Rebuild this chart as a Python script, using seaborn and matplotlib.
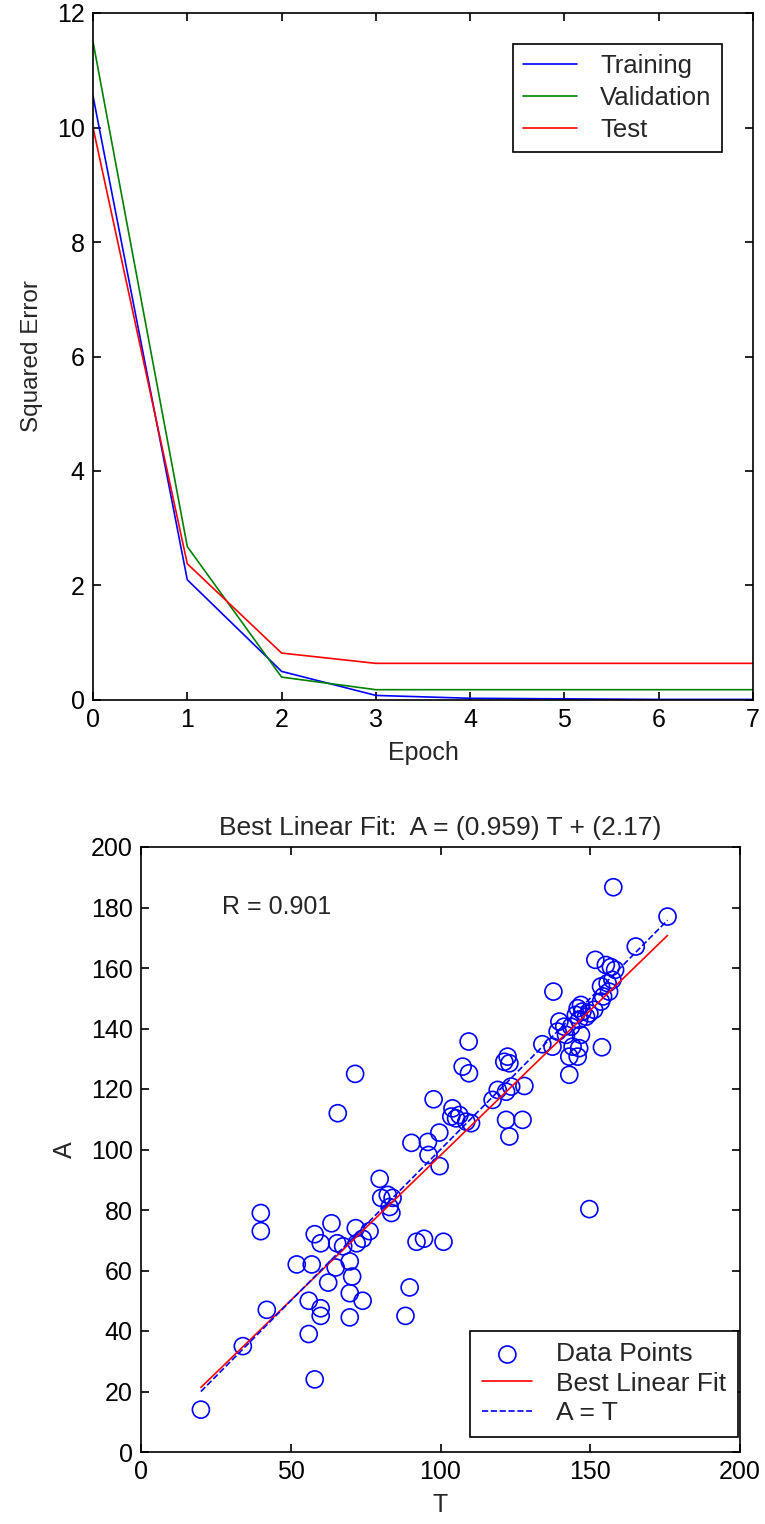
import numpy as np
import pandas as pd
import matplotlib
matplotlib.use("Agg")
import matplotlib.pyplot as plt
import seaborn as sns

# training curves
epochs = [0, 1, 2, 3, 4, 5, 6, 7]
train_err = [10.55, 2.10, 0.50, 0.08, 0.03, 0.02, 0.01, 0.01]
valid_err = [11.50, 2.68, 0.40, 0.18, 0.18, 0.18, 0.18, 0.18]
test_err = [10.00, 2.38, 0.82, 0.64, 0.64, 0.64, 0.64, 0.64]

# regression scatter: targets T vs outputs A
T = [20, 34, 40, 40, 42, 52, 56, 56, 57, 58, 58, 60, 60, 60, 62.5, 63.6,
     65, 65.5, 65.7, 67.5, 69.7, 69.7, 69.7, 70.5, 71.5, 71.7, 72, 74, 74,
     76.3, 79.7, 80.2, 82.4, 83, 84, 83.6, 88.3, 89.7, 90.3, 92, 94.5, 95.8,
     96, 97.7, 99.6, 99.7, 101, 104, 103.6, 105.2, 106.3, 107.4, 108.6,
     109.4, 109.5, 110.2, 117.4, 119.1, 121.9, 121.3, 122.4, 123, 123.6,
     121.9, 123, 127.4, 128, 134, 137.4, 137.7, 139.7, 139.1, 141.3, 141.9,
     143, 143, 143.6, 144.1, 145.8, 146.3, 146.9, 145.2, 146.3, 145.8, 146.9,
     147.4, 148.6, 149.7, 149.7, 151.3, 151.7, 153.6, 153.9, 154.3, 153.6,
     155.2, 155.8, 156.3, 156.9, 157.4, 158.3, 157.7, 165.2, 175.8]
A = [14, 35, 79, 73, 47, 62, 50, 39, 62, 72, 24, 69, 47.5, 45, 56, 75.6,
     61, 69, 112, 68, 63, 52.5, 44.5, 58, 125, 74, 69, 70.5, 50,
     73, 90.3, 84, 85, 81, 84, 79, 45, 54.4, 102.2, 69.5, 70.5, 102.5,
     98.2, 116.6, 105.6, 94.5, 69.5, 113.6, 110.9, 110.3, 111.4, 127.4, 109.2,
     135.7, 125.2, 108.7, 116.4, 119.7, 119.1, 129, 130.7, 128.5, 120.8,
     109.8, 104.3, 109.8, 121, 134.8, 134, 152.2, 142.3, 139, 140.6, 137.9,
     124.7, 130.7, 140.6, 134, 130.7, 133.5, 137.9, 144.5, 142.9, 146.7, 147.8,
     145.6, 143.9, 145, 80.3, 146.2, 162.7, 148.9, 133.8, 150.6, 153.9,
     161, 155, 152.2, 160.3, 156.1, 159.4, 186.7, 167.1, 177]

fit_slope = 0.959
fit_intercept = 2.17
r_value = 0.901

FS = 18

sns.set_theme(style="white")
plt.rcParams['font.family'] = ['Liberation Sans', 'DejaVu Sans']
plt.rcParams['font.size'] = FS
plt.rcParams['xtick.direction'] = 'in'
plt.rcParams['ytick.direction'] = 'in'

fig = plt.figure(figsize=(7.65, 15.24), dpi=100)
ax1 = fig.add_axes([93/765, 1 - 700/1524, 660/765, 687/1524])
ax2 = fig.add_axes([141/765, 1 - 1452/1524, 599/765, 605/1524])

# ---- top panel: error vs epoch ----
curves = pd.DataFrame({
    "Epoch": epochs * 3,
    "err": train_err + valid_err + test_err,
    "set": ["Training"] * 8 + ["Validation"] * 8 + ["Test"] * 8,
})
sns.lineplot(data=curves, x="Epoch", y="err", hue="set",
             palette={"Training": "#0000ff", "Validation": "#008000", "Test": "#ff0000"},
             linewidth=1.2, ax=ax1)
ax1.set_xlim(0, 7)
ax1.set_ylim(0, 12)
ax1.set_xticks(range(0, 8))
ax1.set_yticks(range(0, 13, 2))
ax1.set_xlabel("Epoch", fontsize=FS, labelpad=6)
ax1.set_ylabel("Squared Error", fontsize=17.5, labelpad=10)
leg1 = ax1.legend(loc="upper right", bbox_to_anchor=(0.953, 0.955), borderaxespad=0,
                  fontsize=18.5, fancybox=False, framealpha=1, edgecolor="black",
                  handlelength=2.1, handletextpad=0.9, labelspacing=0.3,
                  borderpad=0.4)
leg1.get_frame().set_linewidth(1.2)

# ---- bottom panel: regression ----
pts = pd.DataFrame({"T": T, "A": A})
sns.scatterplot(data=pts, x="T", y="A", marker="o", s=150, facecolor="none",
                edgecolor="#0000ff", linewidth=1.2, label="Data Points", ax=ax2)
t_line = [min(T), max(T)]
fit_line = pd.DataFrame({"T": t_line, "A": [fit_slope * t + fit_intercept for t in t_line]})
sns.lineplot(data=fit_line, x="T", y="A", color="#ff0000", linewidth=1.2,
             label="Best Linear Fit", ax=ax2)
ident = pd.DataFrame({"T": t_line, "A": t_line})
sns.lineplot(data=ident, x="T", y="A", color="#0000ff", linewidth=1.2,
             linestyle="--", label="A = T", ax=ax2)
ax2.set_xlim(0, 200)
ax2.set_ylim(0, 200)
ax2.set_xticks(range(0, 201, 50))
ax2.set_yticks(range(0, 201, 20))
ax2.set_xlabel("T", fontsize=FS, labelpad=6)
ax2.set_ylabel("A", fontsize=FS, labelpad=10)
ax2.set_title(f"Best Linear Fit:  A = ({fit_slope}) T + ({fit_intercept})",
              fontsize=19, pad=9)
ax2.text(27, 180, f"R = {r_value}", fontsize=FS, va="center", ha="left")
leg2 = ax2.legend(loc="lower right", bbox_to_anchor=(0.997, 0.025), borderaxespad=0,
                  fontsize=19, fancybox=False, framealpha=1, edgecolor="black",
                  handlelength=1.9, handletextpad=0.9, labelspacing=0.2,
                  borderpad=0.45)
leg2.get_frame().set_linewidth(1.2)

for ax in (ax1, ax2):
    for sp in ax.spines.values():
        sp.set_color("black")
        sp.set_linewidth(1.2)
        sp.set_visible(True)
    ax.tick_params(which="both", direction="in", length=6, width=1.2,
                   top=True, right=True, bottom=True, left=True,
                   labelsize=FS, colors="black", pad=6)
    ax.grid(False)

fig.savefig("out.png", dpi=100, facecolor="white")
